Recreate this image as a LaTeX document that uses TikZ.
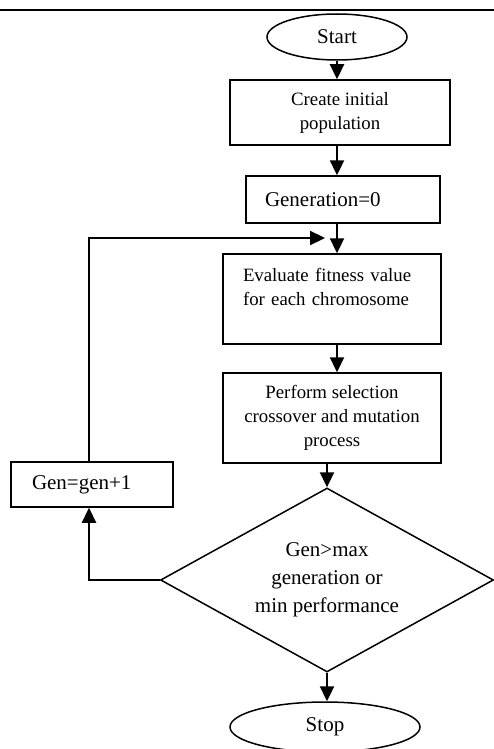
\documentclass[tikz,border=0pt]{standalone}
\usepackage{fontspec}
\setmainfont{Liberation Serif}
\usetikzlibrary{shapes.geometric,arrows.meta,calc}
\begin{document}
\begin{tikzpicture}[x=1pt,y=-1pt,
  box/.style={draw,line width=1.5pt,rectangle,inner sep=0pt},
  oval/.style={draw,line width=1.5pt,ellipse,inner sep=0pt},
  smalltxt/.style={font=\fontsize{18.8}{24}\selectfont},
  bigtxt/.style={font=\fontsize{21}{28}\selectfont},
  arr/.style={line width=2.3pt,-{Triangle[length=15pt,width=14pt]}}]
\useasboundingbox (0,0) rectangle (494,749);
\draw[line width=2pt] (0,10) -- (494,10);
\node[oval,bigtxt,minimum width=140pt,minimum height=46pt] (start) at (337,37) {Start};
\node[box,smalltxt,align=center,minimum width=220pt,minimum height=65pt] (create) at (340,112.5) {Create initial\\population};
\node[box,bigtxt,text width=156pt,align=left,minimum height=47pt,inner xsep=19pt] (gen0) at (343,199.5) {Generation=0};
\node[box,smalltxt,text width=178pt,align=left,minimum height=90pt,inner xsep=20pt] (eval) at (332,299) {Evaluate fitness value\\for each chromosome\\\mbox{}};
\node[box,smalltxt,align=center,minimum width=218pt,minimum height=90pt] (perform) at (332,418) {Perform selection\\crossover and mutation\\process};
\node[draw,line width=1.5pt,diamond,aspect=1.81,inner sep=0pt,minimum width=333pt,minimum height=184pt,bigtxt,align=center] (dec) at (327,580) {Gen>max\\generation or\\min performance};
\node[box,bigtxt,text width=120pt,align=left,minimum height=45pt,inner xsep=21pt] (gen1) at (92,484.5) {Gen=gen+1};
\node[oval,bigtxt,minimum width=190pt,minimum height=50pt] (stop) at (325,727) {Stop};
\coordinate (merge) at (325,238);
\draw[arr] (start.south) -- (start.south |- create.north);
\draw[arr] (create.south -| start.south) -- (start.south |- gen0.north);
\draw[arr] (gen0.south -| start.south) -- (start.south |- eval.north);
\draw[arr] (eval.south -| start.south) -- (start.south |- perform.north);
\draw[arr] (perform.south -| dec.north) -- (dec.north);
\draw[arr] (dec.south) -- (dec.south |- stop.north);
\draw[arr] (dec.west) -| ([xshift=-3pt]gen1.south);
\draw[arr] ([xshift=-3pt]gen1.north) |- (merge);
\end{tikzpicture}
\end{document}
